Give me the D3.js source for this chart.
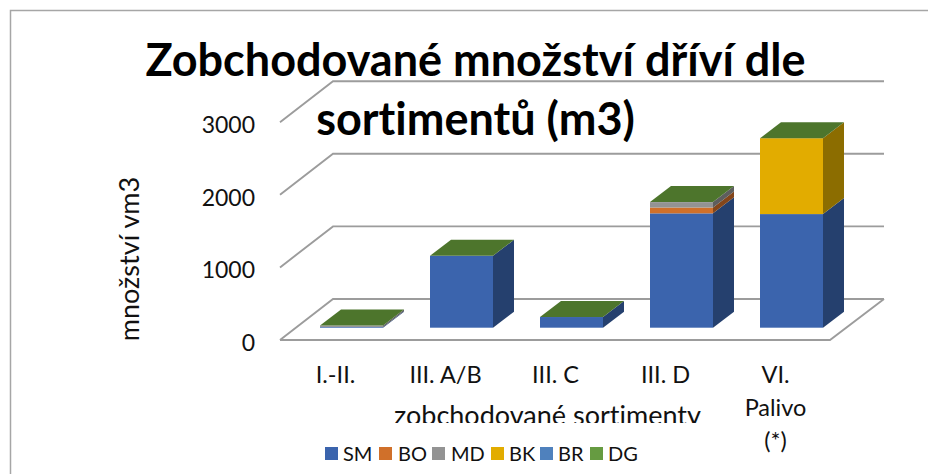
<!DOCTYPE html>
<html><head><meta charset="utf-8">
<script src="https://cdn.jsdelivr.net/npm/d3@7/dist/d3.min.js"></script>
<style>html,body{margin:0;padding:0;background:#fff}svg{display:block}text{font-family:Lato,"Open Sans",sans-serif;fill:#111;font-variant-ligatures:none}</style>
</head><body><svg id="c" width="928" height="474"></svg>
<script>
const categories = ["I.-II.", "III. A/B", "III. C", "III. D", "VI. Palivo (*)"];
const categoryLines = [["I.-II."], ["III. A/B"], ["III. C"], ["III. D"], ["VI.", "Palivo", "(*)"]];
const seriesNames = ["SM", "BO", "MD", "BK", "BR", "DG"];
const SM = [10, 990, 147, 1575, 1565];
const BO = [0, 0, 0, 80, 0];
const MD = [20, 0, 0, 75, 0];
const BK = [0, 0, 0, 0, 1045];
const BR = [0, 0, 0, 0, 0];
const DG = [0, 0, 0, 0, 0];
const yTicks = [0, 1000, 2000, 3000];
const titleLines = ["Zobchodované množství dříví dle", "sortimentů (m3)"];
const xTitle = "zobchodované sortimenty";
const yTitle = "množství vm3";
const frontColors = ["#3b64ad", "#d0702a", "#939393", "#e2ac00", "#4f81bd", "#669b41"];
const sideColors = ["#25406e", "#84461a", "#5e5e5e", "#8c6d00", "#325274", "#3f6127"];
const topColor = "#4d752c";

const svg = d3.select("#c");
const rows = categories.map((c, i) => ({c, SM: SM[i], BO: BO[i], MD: MD[i], BK: BK[i], BR: BR[i], DG: DG[i]}));
const stacked = d3.stack().keys(seriesNames)(rows);

// Frame
svg.append("path").attr("d", "M10.5,474V10.5H928").attr("fill", "none").attr("stroke", "#a6a6a6").attr("stroke-width", 1.5);

// Projection
const y = d3.scaleLinear().domain([0, 3000]).range([0, 217.8]);
const floorFrontY = 340, floorFrontL = 280, floorFrontR = 830, wallDX = 53, wallDY = 41;
const gridG = svg.append("g").attr("fill", "none").attr("stroke", "#9c9c9c").attr("stroke-width", 1.9);
yTicks.forEach(t => {
  const h = y(t);
  gridG.append("path").attr("d",
    `M${floorFrontL},${floorFrontY - h}L${floorFrontL + wallDX},${floorFrontY - wallDY - h}L${floorFrontR + wallDX + 1},${floorFrontY - wallDY - h}`);
});
gridG.append("path").attr("d",
  `M${floorFrontL},${floorFrontY}L${floorFrontR},${floorFrontY}L${floorFrontR + wallDX + 1},${floorFrontY - wallDY}`);

// Bars
const barX = d3.scalePoint().domain(categories).range([320, 760]);
const barW = 63, dX = 21, dY = 16, baseY = 327.7;
const barsG = svg.append("g");
categories.forEach((c, i) => {
  const x0 = barX(c), x1 = x0 + barW;
  const g = barsG.append("g");
  stacked.forEach((s, k) => {
    const [a, b] = s[i];
    if (b - a <= 0) return;
    const ya = baseY - y(a), yb = baseY - y(b);
    g.append("path").attr("fill", sideColors[k])
      .attr("d", `M${x1},${ya}L${x1 + dX},${ya - dY}L${x1 + dX},${yb - dY}L${x1},${yb}Z`);
    g.append("rect").attr("x", x0).attr("y", yb).attr("width", barW).attr("height", ya - yb).attr("fill", frontColors[k]);
  });
  const total = d3.max(stacked, s => s[i][1]);
  const yt = baseY - y(total);
  g.append("path").attr("fill", topColor)
    .attr("d", `M${x0},${yt}L${x0 + dX},${yt - dY}L${x1 + dX},${yt - dY}L${x1},${yt}Z`);
});

// Y axis labels via d3 axis
const yPos = d3.scaleLinear().domain([0, 3000]).range([floorFrontY, floorFrontY - 217.8]);
const axis = d3.axisLeft(yPos).tickValues(yTicks).tickSize(0).tickPadding(0).tickFormat(d3.format("d"));
const ag = svg.append("g").attr("transform", "translate(255,3)").call(axis);
ag.select(".domain").remove();
ag.selectAll("text").attr("font-size", 23).style("font-family", "Lato").attr("fill", "#111");

// Y title
svg.append("text").attr("transform", "translate(139,259) rotate(-90)").attr("text-anchor", "middle")
  .attr("font-size", 27).text(yTitle);

// Category labels
const labelX = d3.scalePoint().domain(categories).range([335.5, 775.5]);
categories.forEach((c, i) => {
  categoryLines[i].forEach((l, j) => {
    svg.append("text").attr("x", labelX(c)).attr("y", 383 + j * 33).attr("text-anchor", "middle")
      .attr("font-size", 23.5).text(l);
  });
});

// X title, clipped
svg.append("clipPath").attr("id", "xt").append("rect").attr("x", 340).attr("y", 395).attr("width", 420).attr("height", 28);
svg.append("g").attr("clip-path", "url(#xt)").append("text").attr("x", 547.5).attr("y", 425).attr("text-anchor", "middle")
  .attr("font-size", 27).text(xTitle);

// Legend
const legendSwatchX = [325, 379, 432, 491, 540, 590];
const legendTextX = [343, 398, 451, 509, 558, 608];
seriesNames.forEach((n, i) => {
  svg.append("rect").attr("x", legendSwatchX[i]).attr("y", 447).attr("width", 13).attr("height", 13).attr("fill", frontColors[i]);
  svg.append("text").attr("x", legendTextX[i]).attr("y", 460.5).attr("font-size", 20).text(n);
});

// Title
titleLines.forEach((l, i) => {
  svg.append("text").attr("x", 475.5).attr("y", 76 + i * 59).attr("text-anchor", "middle")
    .attr("font-size", 45).attr("font-weight", 700).style("fill", "#000").text(l);
});
</script></body></html>
